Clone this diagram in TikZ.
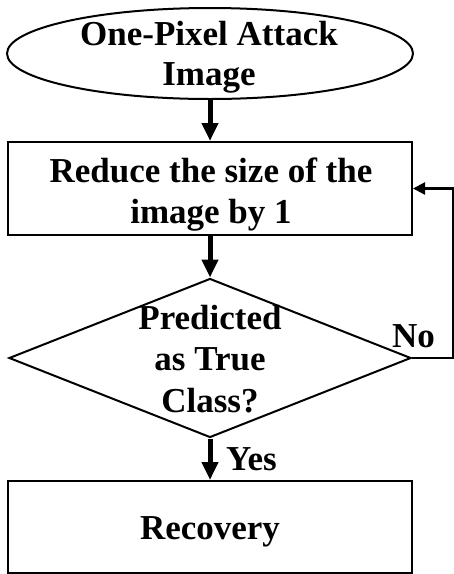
\documentclass[tikz,border=0pt]{standalone}
\usepackage{fontspec}
\setmainfont{Liberation Serif}
\usetikzlibrary{shapes.geometric,arrows.meta}
\tikzset{
  shapeline/.style={draw=black, line width=2pt, inner sep=0pt, fill=none},
  txt/.style={inner sep=0pt, align=center, font=\bfseries\fontsize{35}{41}\selectfont},
  mainarrow/.style={line width=5pt, -{Triangle[width=16pt,length=18pt]}},
  fbarrow/.style={line width=2.3pt, -{Triangle[width=12pt,length=12pt]}},
}
\begin{document}
\begin{tikzpicture}[x=1pt,y=-1pt]
\useasboundingbox (0,0) rectangle (454,574);
% shapes
\node[shapeline, ellipse, minimum width=406pt, minimum height=91pt] (ell) at (210,53.5) {};
\node[shapeline, rectangle, minimum width=404pt, minimum height=93pt] (box1) at (210,188.5) {};
\node[shapeline, diamond, minimum width=402pt, minimum height=159pt] (dec) at (210,358) {};
\node[shapeline, rectangle, minimum width=404pt, minimum height=92pt] (box2) at (210,527) {};
% texts
\node[txt, font=\bfseries\fontsize{35}{40}\selectfont] (ellt) at (209,57) {One-Pixel Attack\\Image};
\node[txt] (box1t) at (211,194.2) {Reduce the size of the\\image by 1};
\node[txt, font=\bfseries\fontsize{35}{41.5}\selectfont] (dect) at (210,358.7) {Predicted\\as True\\Class?};
\node[txt] (box2t) at (210,532) {Recovery};
\node[txt, anchor=base west] (no) at (392,347) {No};
\node[txt, anchor=base west] (yes) at (226,470) {Yes};
% connectors
\draw[mainarrow] (ell.south) -- (box1.north);
\draw[mainarrow] (box1.south) -- (dec.north);
\draw[mainarrow] (dec.south) -- (box2.north);
\coordinate (loop) at (452.8,358);
\draw[fbarrow] (dec.east) -- (loop) |- (box1.east);
\end{tikzpicture}
\end{document}
